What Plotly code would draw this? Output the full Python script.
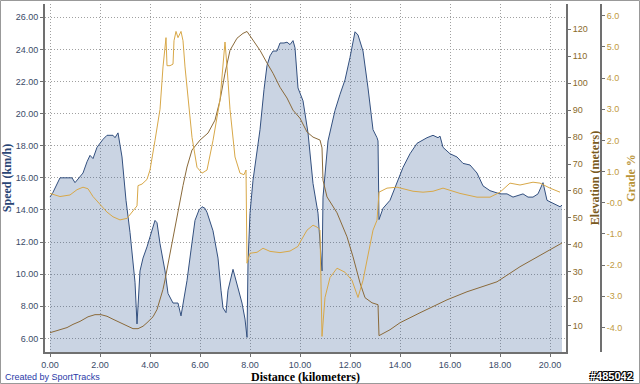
import plotly.graph_objects as go

# ---------------- data ----------------
speed_km = [0.00, 0.12, 0.40, 0.64, 0.88, 1.00, 1.32, 1.48, 1.60, 1.72, 1.88, 2.12, 2.28, 2.52, 2.60,
            2.72, 2.80, 2.88, 3.04, 3.20, 3.40, 3.48, 3.60, 3.72, 3.88, 4.04, 4.20, 4.28, 4.40, 4.60,
            4.72, 4.92, 5.12, 5.24, 5.36, 5.48, 5.64, 5.80, 5.96, 6.08, 6.20, 6.28, 6.52, 6.72, 6.84,
            6.92, 7.04, 7.12, 7.32, 7.48, 7.68, 7.80, 7.88, 7.92, 8.00, 8.12, 8.40, 8.56, 8.68, 8.80,
            8.92, 9.08, 9.20, 9.36, 9.48, 9.60, 9.72, 9.80, 9.92, 10.12, 10.32, 10.52, 10.72, 10.88,
            10.92, 11.12, 11.40, 11.60, 11.80, 12.00, 12.20, 12.32, 12.52, 12.72, 12.92, 13.08, 13.12,
            13.16, 13.32, 13.60, 13.80, 14.00, 14.12, 14.40, 14.68, 15.08, 15.32, 15.52, 15.60, 15.72,
            16.00, 16.28, 16.52, 16.80, 17.08, 17.32, 17.60, 18.00, 18.28, 18.52, 18.72, 18.92, 19.12,
            19.32, 19.52, 19.72, 19.88, 20.12, 20.40, 20.48]
speed_kmh = [14.8, 15.1, 16.0, 16.0, 16.0, 15.7, 16.3, 17.0, 17.4, 17.2, 17.9, 18.4, 18.65, 18.65, 18.5,
             18.8, 18.0, 17.3, 14.6, 12.6, 9.5, 6.9, 10.2, 11.0, 11.7, 12.6, 13.35, 13.2, 11.9, 10.2,
             8.8, 8.2, 8.2, 7.4, 8.4, 9.6, 11.5, 13.35, 14.0, 14.2, 14.1, 13.85, 12.7, 11.0, 9.0,
             7.9, 7.6, 9.0, 10.3, 9.4, 8.2, 7.2, 6.06, 10.7, 13.8, 15.85, 19.0, 21.5, 23.0, 23.6,
             23.9, 23.9, 24.4, 24.4, 24.45, 24.3, 24.55, 24.1, 21.6, 20.8, 18.8, 15.65, 13.8, 10.2,
             14.8, 18.3, 20.2, 21.2, 22.1, 23.5, 25.1, 24.9, 23.9, 21.6, 19.0, 18.5, 18.3,
             13.4, 14.1, 14.6, 15.4, 16.2, 16.65, 17.5, 18.15, 18.5, 18.65, 18.5, 18.6, 17.9,
             17.5, 17.3, 16.9, 16.8, 16.3, 15.5, 15.2, 15.0, 15.0, 14.8, 14.9, 15.0, 14.8,
             14.8, 15.0, 15.7, 14.6, 14.4, 14.2, 14.3]

elev_km = [0.00, 0.40, 0.68, 0.92, 1.20, 1.52, 1.80, 2.04, 2.28, 2.52, 2.80, 3.08, 3.32, 3.52, 3.72,
           3.88, 4.12, 4.28, 4.40, 4.52, 4.60, 4.72, 4.92, 5.12, 5.32, 5.48, 5.68, 6.00, 6.32, 6.60,
           6.80, 7.00, 7.20, 7.48, 7.72, 7.88, 8.12, 8.40, 8.68, 8.92, 9.20, 9.48, 9.72, 10.00, 10.28,
           10.52, 10.80, 10.88, 10.92, 11.08, 11.48, 11.88, 12.12, 12.40, 12.60, 12.88, 13.12, 13.16,
           13.60, 14.00, 14.80, 15.88, 16.68, 17.88, 18.80, 19.88, 20.48]
elev_m = [7.4, 8.6, 9.3, 10.5, 11.6, 13.3, 14.1, 14.1, 13.5, 12.4, 11.1, 9.9, 8.9, 8.9, 9.8,
          11.1, 13.3, 16.0, 19.6, 23.5, 27.0, 33.0, 41.9, 51.9, 62.0, 68.9, 75.2, 78.9, 81.5, 86.3,
          93.7, 103.7, 112.2, 116.7, 118.5, 119.2, 116.0, 112.2, 107.5, 103.7, 98.5, 94.5, 90.0, 87.0, 81.9,
          80.0, 78.9, 76.0, 64.0, 57.8, 51.9, 43.0, 35.6, 25.9, 20.4, 18.5, 17.8, 6.3,
          8.5, 11.1, 14.8, 19.6, 22.6, 26.3, 31.9, 37.4, 40.7]

grade_km = [0.00, 0.40, 0.80, 1.08, 1.32, 1.52, 1.72, 2.00, 2.28, 2.52, 2.80, 3.08, 3.32, 3.48, 3.52,
            3.68, 3.88, 4.00, 4.20, 4.40, 4.52, 4.64, 4.68, 4.80, 4.92, 4.96, 5.04, 5.12, 5.24, 5.32,
            5.40, 5.52, 5.68, 5.88, 6.08, 6.28, 6.52, 6.80, 6.92, 7.00, 7.08, 7.20, 7.40, 7.60, 7.76,
            7.84, 7.88, 8.00, 8.28, 8.52, 8.80, 9.20, 9.60, 9.92, 10.00, 10.28, 10.52, 10.68, 10.80,
            10.88, 11.00, 11.20, 11.48, 11.80, 12.08, 12.32, 12.52, 12.72, 12.92, 13.08, 13.16, 13.48,
            13.88, 14.52, 14.92, 15.32, 15.72, 16.00, 16.40, 17.08, 17.60, 18.00, 18.40, 18.80, 19.32,
            19.60, 20.00, 20.40]
grade_pct = [0.30, 0.20, 0.25, 0.42, 0.50, 0.45, 0.20, -0.05, -0.30, -0.45, -0.55, -0.50, -0.25, -0.10, 0.55,
             0.60, 0.75, 1.05, 2.00, 3.00, 4.36, 5.30, 4.40, 4.40, 4.45, 5.20, 5.50, 5.30, 5.50, 5.20,
             4.36, 3.30, 2.10, 1.14, 0.95, 1.05, 2.00, 3.30, 4.36, 5.16, 4.36, 3.00, 1.47, 0.95, 0.90,
             1.05, -1.94, -1.62, -1.59, -1.46, -1.56, -1.60, -1.55, -1.40, -1.27, -0.88, -0.72, -0.78, -0.88,
             -4.29, -3.04, -2.40, -2.10, -2.23, -2.49, -3.04, -2.49, -1.62, -0.88, -0.56, 0.34, 0.47,
             0.50, 0.37, 0.34, 0.37, 0.47, 0.40, 0.30, 0.18, 0.18, 0.34, 0.63, 0.57, 0.66,
             0.63, 0.47, 0.34]

x_ticks = [0, 2, 4, 6, 8, 10, 12, 14, 16, 18, 20]
speed_ticks = [6, 8, 10, 12, 14, 16, 18, 20, 22, 24, 26]
elev_ticks = [10, 20, 30, 40, 50, 60, 70, 80, 90, 100, 110, 120]
grade_ticks = [-4, -3, -2, -1, 0, 1, 2, 3, 4, 5, 6]
grade_ticktext = ["-4.0", "-3.0", "-2.0", "-1.0", "-0.0", "1.0", "2.0", "3.0", "4.0", "5.0", "6.0"]

# ---------------- figure ----------------
W, H = 640, 384
ML, MR, MT, MB = 45, 39, 4, 32
plot_right = 566
pw = W - ML - MR
dom_end = (plot_right - ML) / pw
ph = H - MT - MB

def px_x(px):
    return (px - ML) / pw

def px_y(py):
    return (H - MB - py) / ph

fig = go.Figure()
fig.add_trace(go.Scatter(x=speed_km, y=speed_kmh, mode="lines", fill="tozeroy",
                         line=dict(color="#33507f", width=1),
                         fillcolor="rgba(60,95,150,0.27)", yaxis="y", hoverinfo="skip"))
fig.add_trace(go.Scatter(x=elev_km, y=elev_m, mode="lines",
                         line=dict(color="#8a6a3a", width=1), yaxis="y2", hoverinfo="skip"))
fig.add_trace(go.Scatter(x=grade_km, y=grade_pct, mode="lines",
                         line=dict(color="#d8a848", width=1), yaxis="y3", hoverinfo="skip"))

tickfont = dict(family="Liberation Sans, Arial, sans-serif", size=9)
titlefont = dict(family="Liberation Serif, Times New Roman, serif", size=12, weight="bold")
grid = dict(showgrid=True, gridcolor="#a0a0a0", griddash="1px,2px", gridwidth=1)

fig.update_layout(
    width=W, height=H,
    margin=dict(l=ML, r=MR, t=MT, b=MB, pad=0),
    paper_bgcolor="white", plot_bgcolor="white",
    showlegend=False,
    xaxis=dict(domain=[0, dom_end], range=[-0.2, 20.64], tickvals=x_ticks, tickformat=".2f",
               **grid,
               showline=True, linecolor="#707070", linewidth=2, zeroline=False,
               ticks="outside", ticklen=3, tickcolor="#707070",
               tickfont=dict(tickfont, color="#3a4a68"),
               title=dict(text="Distance (kilometers)", font=dict(titlefont, color="#000000"), standoff=3)),
    yaxis=dict(range=[5.15, 26.83], tickvals=speed_ticks, tickformat=".2f",
               **grid,
               showline=True, linecolor="#707070", linewidth=2, zeroline=False,
               ticks="outside", ticklen=3, tickcolor="#707070",
               tickfont=dict(tickfont, color="#3a4a68"),
               title=dict(text="Speed (km/h)", font=dict(titlefont, color="#2a4676"), standoff=2)),
    yaxis2=dict(range=[0.24, 129.4], tickvals=elev_ticks, overlaying="y", side="right", anchor="x",
                showgrid=False, zeroline=False, showline=True, linecolor="#707070", linewidth=2,
                ticks="outside", ticklen=3, tickcolor="#707070",
                tickfont=dict(tickfont, color="#8a6a2a"),
                title=dict(text="Elevation (meters)", font=dict(titlefont, color="#7a5a20"), standoff=4)),
    yaxis3=dict(range=[-4.79, 6.38], tickvals=grade_ticks, ticktext=grade_ticktext,
                overlaying="y", side="right", anchor="free", position=1.0,
                showgrid=False, zeroline=False, showline=True, linecolor="#707070", linewidth=2,
                ticks="outside", ticklen=3, tickcolor="#707070",
                tickfont=dict(tickfont, color="#c09a40"),
                title=dict(text="Grade %", font=dict(titlefont, color="#b89438"), standoff=4)),
    shapes=[dict(type="rect", xref="paper", yref="paper",
                 x0=px_x(0.5), x1=px_x(639.5), y0=px_y(383.5), y1=px_y(0.5),
                 line=dict(color="#999999", width=1), layer="above")],
    annotations=[
        dict(text="Created by SportTracks", xref="paper", yref="paper",
             x=px_x(3), y=px_y(377), xanchor="left", yanchor="middle", showarrow=False,
             font=dict(family="Liberation Sans, Arial, sans-serif", size=9, color="#2a3aa8")),
        dict(text="#485042", xref="paper", yref="paper",
             x=px_x(635), y=px_y(376), xanchor="right", yanchor="middle", showarrow=False,
             font=dict(family="Liberation Sans, Arial, sans-serif", size=11, color="#ffffff", weight="bold",
                       shadow="-1px -1px 0 #000, 1px -1px 0 #000, -1px 1px 0 #000, 1px 1px 0 #000")),
    ],
)

fig.write_html("out.html")
